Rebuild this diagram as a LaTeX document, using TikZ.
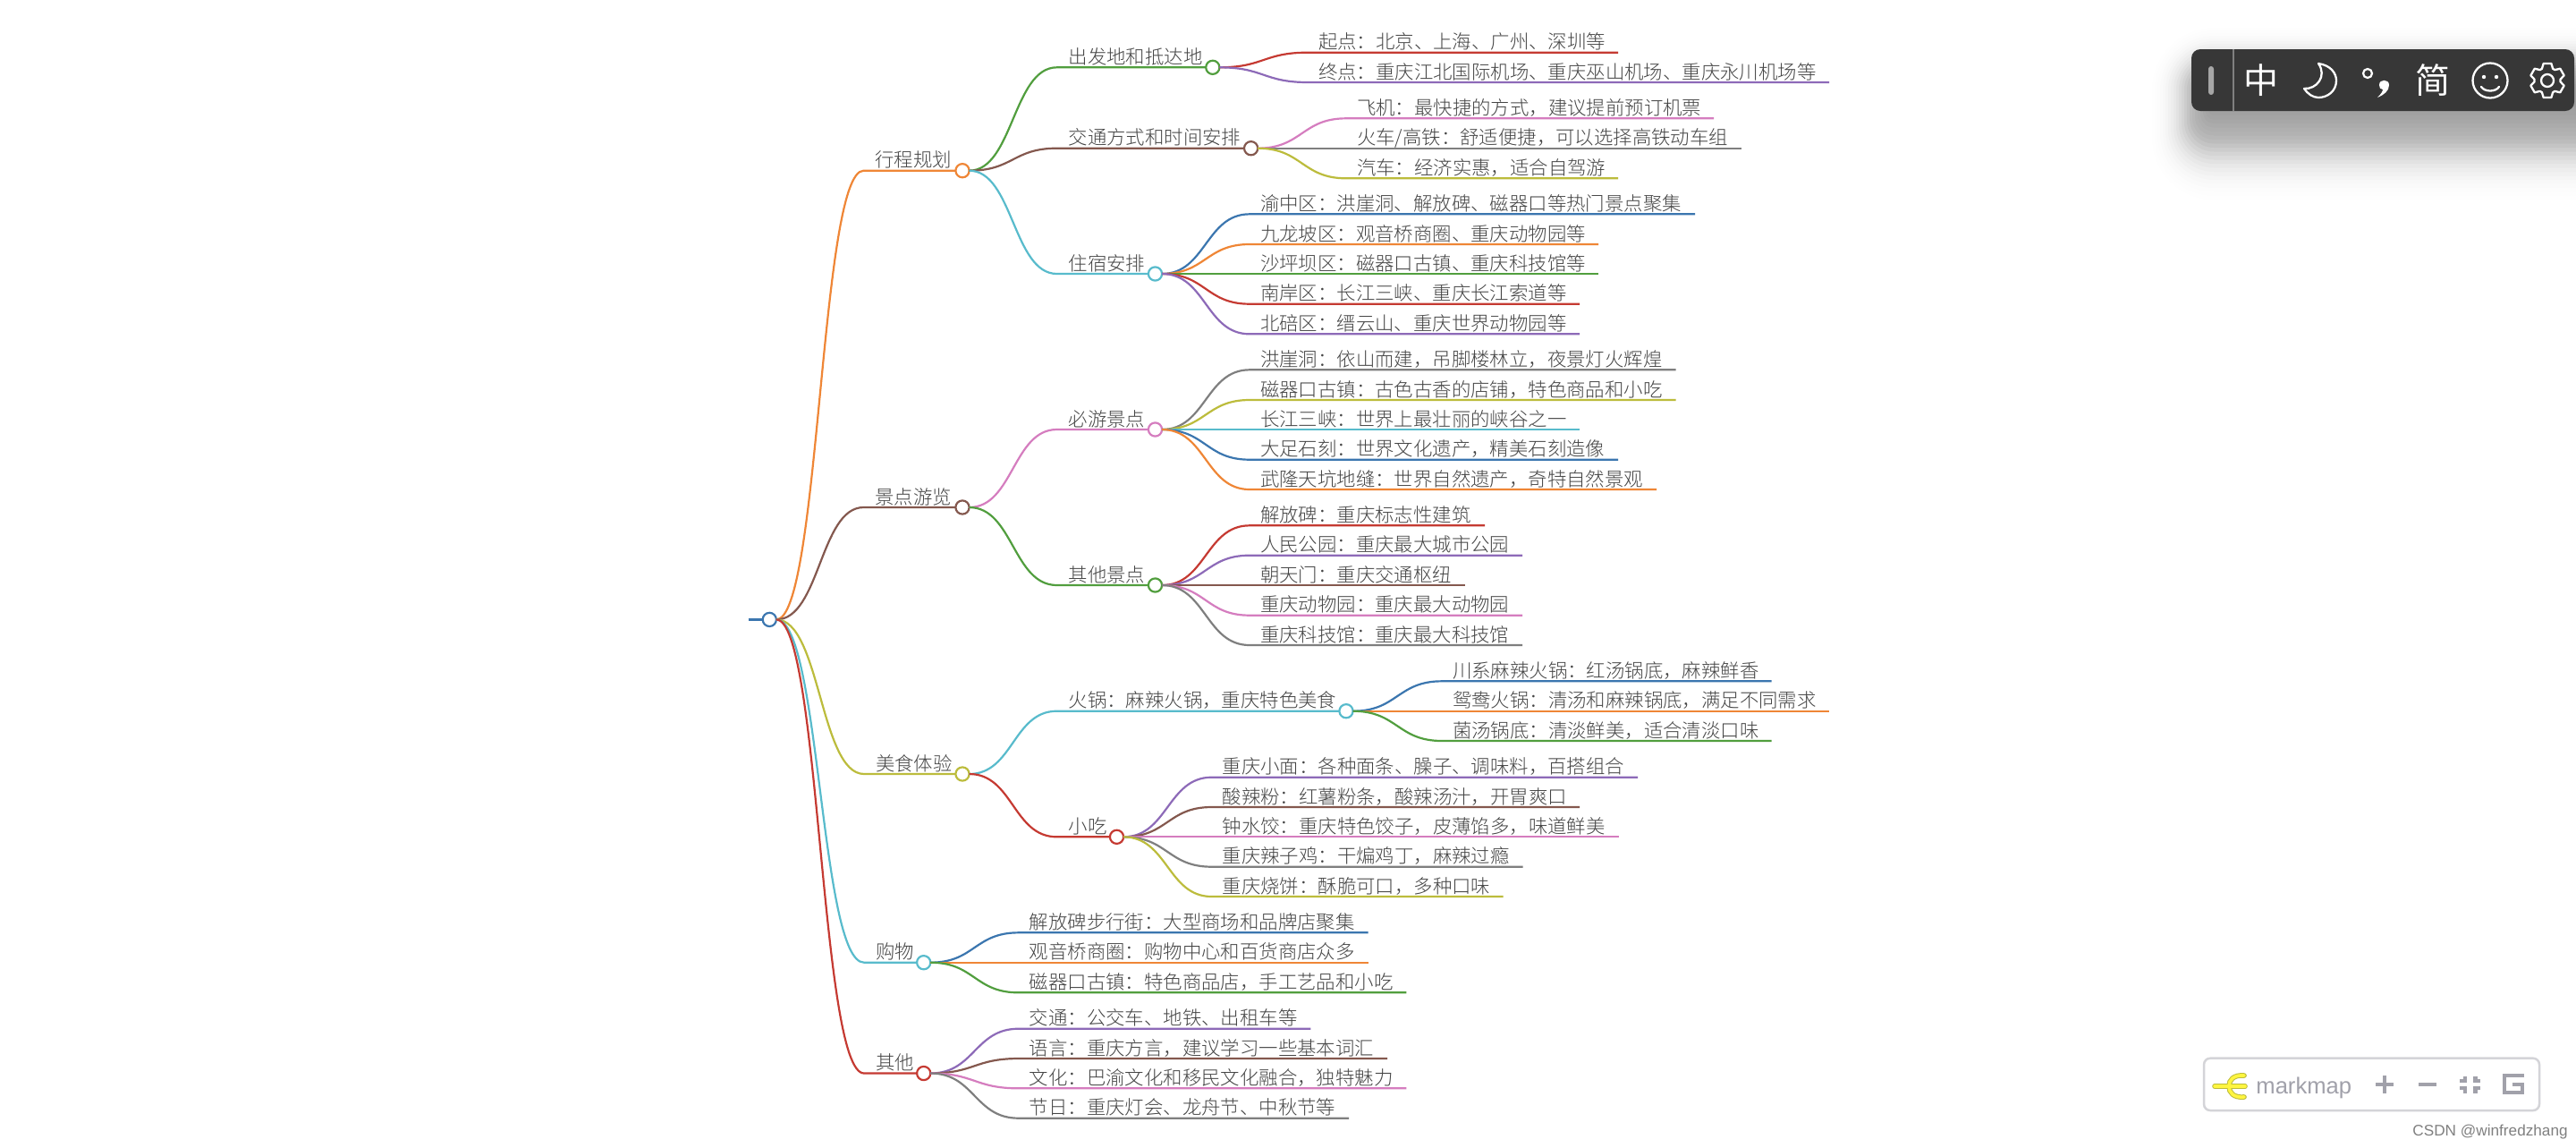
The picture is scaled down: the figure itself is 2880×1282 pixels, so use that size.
\documentclass[tikz,border=0pt]{standalone}
\usepackage{fontspec}
\usetikzlibrary{calc}
\setmainfont{Noto Sans CJK SC Light}
\newfontfamily\cjkreg{Noto Sans CJK SC}
\newfontfamily\latinsans{Liberation Sans}
\definecolor{mmblue}{HTML}{3B76AF}
\definecolor{mmorange}{HTML}{EF8636}
\definecolor{mmgreen}{HTML}{519E3E}
\definecolor{mmred}{HTML}{C53A32}
\definecolor{mmpurple}{HTML}{8D6AB8}
\definecolor{mmbrown}{HTML}{84584E}
\definecolor{mmpink}{HTML}{D57DBF}
\definecolor{mmgray}{HTML}{7F7F7F}
\definecolor{mmolive}{HTML}{BCBC3C}
\definecolor{mmcyan}{HTML}{58BBCC}
\definecolor{mmtext}{HTML}{444444}
\definecolor{barbg}{HTML}{373737}
\definecolor{zinc}{HTML}{A1A1AA}
\definecolor{zincl}{HTML}{D4D4D8}
\tikzset{
  dot/.style={circle,fill=white,line width=1.1pt,minimum size=7.6pt,inner sep=0pt,outer sep=0pt},
  link/.style={line width=1.1pt,line cap=butt},
  lbl/.style={font=\fontsize{10.7pt}{12pt}\selectfont,text=mmtext,inner sep=0pt,outer sep=0pt,anchor=base west},
  barline/.style={draw=white,line width=1.15pt,line join=round,line cap=round},
  icon/.style={draw=zinc,line width=2.3pt},
  bartext/.style={font=\cjkreg\fontsize{19.5pt}{20pt}\selectfont,text=white,inner sep=0pt},
}
% internal: name, parent, colour, line start x, y, circle x, text
\newcommand{\mmbranch}[7]{%
  \coordinate (#1s) at (#4,#5);
  \node[dot,draw=#3] (#1) at (#6,#5) {};
  \node[lbl] (#1t) at ({#4+13},{#5-4}) {#7};
  \draw[link,#3] let \p1=(#2.east),\p2=(#1s) in (\p1) .. controls ({(\x1+\x2)/2},\y1) and ({(\x1+\x2)/2},\y2) .. (\p2) -- (#1.west);
}
% leaf: name, parent, colour, line start x, y, line end x, text
\newcommand{\mmleaf}[7]{%
  \coordinate (#1s) at (#4,#5);
  \coordinate (#1e) at (#6,#5);
  \node[lbl] (#1t) at ({#4+12},{#5-4}) {#7};
  \draw[link,#3] let \p1=(#2.east),\p2=(#1s) in (\p1) .. controls ({(\x1+\x2)/2},\y1) and ({(\x1+\x2)/2},\y2) .. (\p2) -- (#1e);
}
\begin{document}
\begin{tikzpicture}[x=0.5pt,y=-0.5pt]
\useasboundingbox (0,0) rectangle (2880,1282);
\fill[white] (0,0) rectangle (2880,1282);

% root
\coordinate (rootstub) at (836.6,692.4);
\node[dot,draw=mmblue] (root) at (860.3,692.4) {};
\draw[link,mmblue] (rootstub) -- (root.west);

% 行程规划
\mmbranch{a}{root}{mmorange}{965.5}{190.7}{1076}{行程规划}
\mmbranch{aa}{a}{mmgreen}{1181.6}{75.3}{1355.8}{出发地和抵达地}
\mmleaf{aaa}{aa}{mmred}{1462}{58.7}{1809}{起点：北京、上海、广州、深圳等}
\mmleaf{aab}{aa}{mmpurple}{1462}{92}{2045}{终点：重庆江北国际机场、重庆巫山机场、重庆永川机场等}
\mmbranch{ab}{a}{mmbrown}{1181.6}{165.7}{1398.6}{交通方式和时间安排}
\mmleaf{aba}{ab}{mmpink}{1505}{132.3}{1916}{飞机：最快捷的方式，建议提前预订机票}
\mmleaf{abb}{ab}{mmgray}{1505}{165.7}{1947}{火车/高铁：舒适便捷，可以选择高铁动车组}
\mmleaf{abc}{ab}{mmolive}{1505}{199.3}{1809}{汽车：经济实惠，适合自驾游}
\mmbranch{ac}{a}{mmcyan}{1181.6}{306}{1291.5}{住宿安排}
\mmleaf{aca}{ac}{mmblue}{1397}{239.3}{1895}{渝中区：洪崖洞、解放碑、磁器口等热门景点聚集}
\mmleaf{acb}{ac}{mmorange}{1397}{273}{1787}{九龙坡区：观音桥商圈、重庆动物园等}
\mmleaf{acc}{ac}{mmgreen}{1397}{306}{1787}{沙坪坝区：磁器口古镇、重庆科技馆等}
\mmleaf{acd}{ac}{mmred}{1397}{339.7}{1766}{南岸区：长江三峡、重庆长江索道等}
\mmleaf{ace}{ac}{mmpurple}{1397}{373.3}{1766}{北碚区：缙云山、重庆世界动物园等}

% 景点游览
\mmbranch{b}{root}{mmbrown}{965.5}{567}{1076}{景点游览}
\mmbranch{ba}{b}{mmpink}{1181.6}{480}{1291.5}{必游景点}
\mmleaf{baa}{ba}{mmgray}{1397}{413.3}{1873.5}{洪崖洞：依山而建，吊脚楼林立，夜景灯火辉煌}
\mmleaf{bab}{ba}{mmolive}{1397}{447}{1873.5}{磁器口古镇：古色古香的店铺，特色商品和小吃}
\mmleaf{bac}{ba}{mmcyan}{1397}{480}{1766}{长江三峡：世界上最壮丽的峡谷之一}
\mmleaf{bad}{ba}{mmblue}{1397}{513.7}{1809}{大足石刻：世界文化遗产，精美石刻造像}
\mmleaf{bae}{ba}{mmorange}{1397}{547}{1852}{武隆天坑地缝：世界自然遗产，奇特自然景观}
\mmbranch{bb}{b}{mmgreen}{1181.6}{654}{1291.5}{其他景点}
\mmleaf{bba}{bb}{mmred}{1397}{587.3}{1660}{解放碑：重庆标志性建筑}
\mmleaf{bbb}{bb}{mmpurple}{1397}{620.7}{1702}{人民公园：重庆最大城市公园}
\mmleaf{bbc}{bb}{mmbrown}{1397}{654}{1638}{朝天门：重庆交通枢纽}
\mmleaf{bbd}{bb}{mmpink}{1397}{687.7}{1702}{重庆动物园：重庆最大动物园}
\mmleaf{bbe}{bb}{mmgray}{1397}{721}{1702}{重庆科技馆：重庆最大科技馆}

% 美食体验
\mmbranch{c}{root}{mmolive}{966}{865}{1076}{美食体验}
\mmbranch{ca}{c}{mmcyan}{1181.6}{794.7}{1505}{火锅：麻辣火锅，重庆特色美食}
\mmleaf{caa}{ca}{mmblue}{1612}{761.3}{1980.6}{川系麻辣火锅：红汤锅底，麻辣鲜香}
\mmleaf{cab}{ca}{mmorange}{1612}{794.7}{2045}{鸳鸯火锅：清汤和麻辣锅底，满足不同需求}
\mmleaf{cac}{ca}{mmgreen}{1612}{828}{1980.6}{菌汤锅底：清淡鲜美，适合清淡口味}
\mmbranch{cb}{c}{mmred}{1181.6}{935.3}{1248.5}{小吃}
\mmleaf{cba}{cb}{mmpurple}{1354.6}{868.7}{1831}{重庆小面：各种面条、臊子、调味料，百搭组合}
\mmleaf{cbb}{cb}{mmbrown}{1354.6}{902}{1766}{酸辣粉：红薯粉条，酸辣汤汁，开胃爽口}
\mmleaf{cbc}{cb}{mmpink}{1354.6}{935.3}{1809.5}{钟水饺：重庆特色饺子，皮薄馅多，味道鲜美}
\mmleaf{cbd}{cb}{mmgray}{1354.6}{968.7}{1702.6}{重庆辣子鸡：干煸鸡丁，麻辣过瘾}
\mmleaf{cbe}{cb}{mmolive}{1354.6}{1002}{1680.6}{重庆烧饼：酥脆可口，多种口味}

% 购物
\mmbranch{d}{root}{mmcyan}{966}{1075.7}{1032.7}{购物}
\mmleaf{da}{d}{mmblue}{1138.8}{1042.3}{1529.6}{解放碑步行街：大型商场和品牌店聚集}
\mmleaf{db}{d}{mmorange}{1138.8}{1075.7}{1529.6}{观音桥商圈：购物中心和百货商店众多}
\mmleaf{dc}{d}{mmgreen}{1138.8}{1109.3}{1572.4}{磁器口古镇：特色商品店，手工艺品和小吃}

% 其他
\mmbranch{e}{root}{mmred}{966}{1199.5}{1032.7}{其他}
\mmleaf{ea}{e}{mmpurple}{1138.8}{1149.7}{1465.3}{交通：公交车、地铁、出租车等}
\mmleaf{eb}{e}{mmbrown}{1138.8}{1183}{1551}{语言：重庆方言，建议学习一些基本词汇}
\mmleaf{ec}{e}{mmpink}{1138.8}{1216.3}{1572.4}{文化：巴渝文化和移民文化融合，独特魅力}
\mmleaf{ed}{e}{mmgray}{1138.8}{1249.7}{1508}{节日：重庆灯会、龙舟节、中秋节等}

% floating toolbar shadow: stacked translucent rectangles with a bell-shaped opacity
\begin{scope}
\clip (0,0) rectangle (2880,1282);
\foreach \k in {-30,-27,...,66}{
  \pgfmathsetmacro{\op}{0.03*exp(-(\k/24)*(\k/24))}
  \pgfmathsetmacro{\rad}{max(1,(\k+30)*0.5)}
  \fill[black,opacity=\op,rounded corners=\rad pt]
    ({2445-\k},{70-\k}) rectangle ({2930+\k},{165+1.5*\k});
}
\end{scope}
% toolbar
\fill[barbg,rounded corners=5pt] (2450,55) rectangle (2878,124);
\draw[gray,line width=0.6pt] (2497,55) -- (2497,124);
\fill[gray!70!white,rounded corners=1.5pt] (2469,74) rectangle (2475,106);
\node[bartext] (imezh) at (2528,90) {中};
\draw[barline] (2592,71) .. controls (2606,73) and (2612,82) .. (2612,90) .. controls (2612,102) and (2602,109) .. (2592,109) .. controls (2586,109) and (2580,105) .. (2576,99) .. controls (2590,100) and (2602,85) .. (2592,71) -- cycle;
\draw[draw=white,line width=1.1pt] (2647,82) circle (5);
\fill[white] (2660,95) .. controls (2660,88) and (2671,88) .. (2671,95) .. controls (2671,102) and (2665,106) .. (2658,109) .. controls (2662,105) and (2664,102) .. (2664,100) .. controls (2661,100) and (2660,98) .. (2660,95) -- cycle;
\node[bartext] (imesimp) at (2720,90) {简};
\draw[barline] (2784,90) circle (19.5);
\fill[white] (2777,86) circle (2.2) (2791,86) circle (2.2);
\draw[barline] (2774,97) .. controls (2778,103) and (2790,103) .. (2794,97);
\draw[barline] (2848,90) circle (7);
\begin{scope}[shift={(2848,90)}]
\draw[barline] (77:19.5) -- (103:19.5)
  \foreach \a in {150,210,270,330,30} { -- (\a-60+25:14.5) -- (\a-60+35:14.5) -- (\a-13:19.5) -- (\a+13:19.5) }
  -- (30+25:14.5) -- (30+35:14.5) -- cycle;
\end{scope}

% markmap toolbar
\draw[zincl,fill=white,line width=1.25pt,rounded corners=3.5pt] (2464,1182.7) rectangle (2839,1241);
\foreach \c/\w in {mmolive/2.8pt,yellow!75!white/1.8pt}{
  \draw[\c,line width=\w,line cap=round] (2476,1214) -- (2510,1214);
  \draw[\c,line width=\w,line cap=round] (2509,1202) .. controls (2497,1201) and (2492,1207) .. (2492,1214) .. controls (2492,1221) and (2497,1227) .. (2509,1226);
}
\node[font=\latinsans\fontsize{12.8pt}{14pt}\selectfont,text=zinc,inner sep=0pt,anchor=base west] (brand) at (2522,1222.7) {markmap};
\draw[icon] (2656,1212) -- (2676,1212) (2666,1202) -- (2666,1222);
\draw[icon] (2704,1212) -- (2724,1212);
\draw[icon] (2756,1202.7) -- (2756,1208) -- (2750,1208) (2767.5,1202.7) -- (2767.5,1208) -- (2773,1208)
  (2750,1216) -- (2756,1216) -- (2756,1221.7) (2773,1216) -- (2767.5,1216) -- (2767.5,1221.7);
\draw[icon] (2822,1202) -- (2800,1202) -- (2800,1221) -- (2820,1221) -- (2820,1212) -- (2809,1212);
\node[font=\latinsans\fontsize{8.6pt}{10pt}\selectfont,text=black!50,inner sep=0pt,anchor=base west] (csdn) at (2697,1269) {CSDN @winfredzhang};
\end{tikzpicture}
\end{document}
